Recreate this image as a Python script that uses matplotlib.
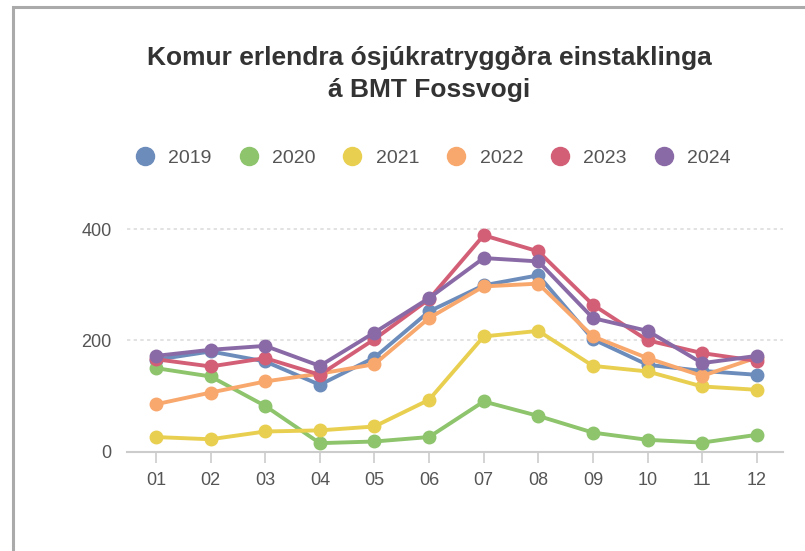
import numpy as np
import matplotlib
matplotlib.use("Agg")
import matplotlib.pyplot as plt
from matplotlib.lines import Line2D
from matplotlib.patches import Rectangle

months = ["01", "02", "03", "04", "05", "06", "07", "08", "09", "10", "11", "12"]
years = ["2019", "2020", "2021", "2022", "2023", "2024"]

v2019 = [165, 180, 162, 120, 169, 252, 299, 317, 202, 156, 145, 138]
v2020 = [150, 135, 82, 15, 18, 26, 90, 64, 34, 21, 16, 30]
v2021 = [26, 22, 36, 38, 45, 93, 207, 217, 154, 144, 117, 111]
v2022 = [85, 106, 126, 140, 157, 240, 297, 302, 207, 168, 136, 169]
v2023 = [166, 153, 168, 138, 202, 274, 389, 360, 264, 200, 177, 163]
v2024 = [172, 183, 190, 154, 214, 276, 348, 342, 240, 217, 159, 172]

series = [v2019, v2020, v2021, v2022, v2023, v2024]
colors = ["#6c8cbb", "#8dc46c", "#e9cf50", "#f8a86d", "#d35f77", "#8a6aa6"]

plt.rcParams['font.family'] = ['Liberation Sans', 'DejaVu Sans']

fig = plt.figure(figsize=(8.05, 5.51), dpi=100)
ax = fig.add_axes([127/805, 1-451.5/551, (783-127)/805, 0.4237])

x = np.arange(1, 13)
for vals, c, lab in zip(series, colors, years):
    ax.plot(x, vals, '-o', color=c, lw=2.8, ms=9, label=lab, clip_on=False, zorder=3)

ax.set_xlim(0.47, 12.48)
ax.set_ylim(0, 420)
ax.set_xticks(x)
ax.set_xticklabels(months)
ax.set_yticks([0, 200, 400])
for s in ["top", "right", "left"]:
    ax.spines[s].set_visible(False)
ax.spines["bottom"].set_color("#cccccc")
ax.spines["bottom"].set_linewidth(1.5)
ax.tick_params(axis="x", length=8, width=1.2, color="#cccccc", labelsize=13,
               labelcolor="#555555", pad=7)
ax.tick_params(axis="y", length=0, labelsize=13, labelcolor="#555555", pad=11)
for yv in [200, 400]:
    ax.axhline(yv, color="#dddddd", lw=1.2, ls=(0, (2, 2)), zorder=1)

fig.text(429/805, 1-58/551, "Komur erlendra ósjúkratryggðra einstaklinga",
         ha="center", va="center", fontsize=19, fontweight="bold", color="#333333")
fig.text(429/805, 1-90/551, "á BMT Fossvogi",
         ha="center", va="center", fontsize=19, fontweight="bold", color="#333333")

handles = [Line2D([], [], ls="none", marker="o", ms=13, color=c) for c in colors]
fig.legend(handles, years, ncol=6, loc="center", bbox_to_anchor=(433/805, 1-158/551),
           frameon=False, fontsize=14, handletextpad=0.7, columnspacing=1.4,
           labelcolor="#555555", handlelength=1.0)

fig.patches.append(Rectangle((13/805, -0.1), 1.2, 1-7/551+0.1, transform=fig.transFigure,
                             fill=False, ec="#aaaaaa", lw=2.2, zorder=0))

fig.savefig("out.png", dpi=100)
